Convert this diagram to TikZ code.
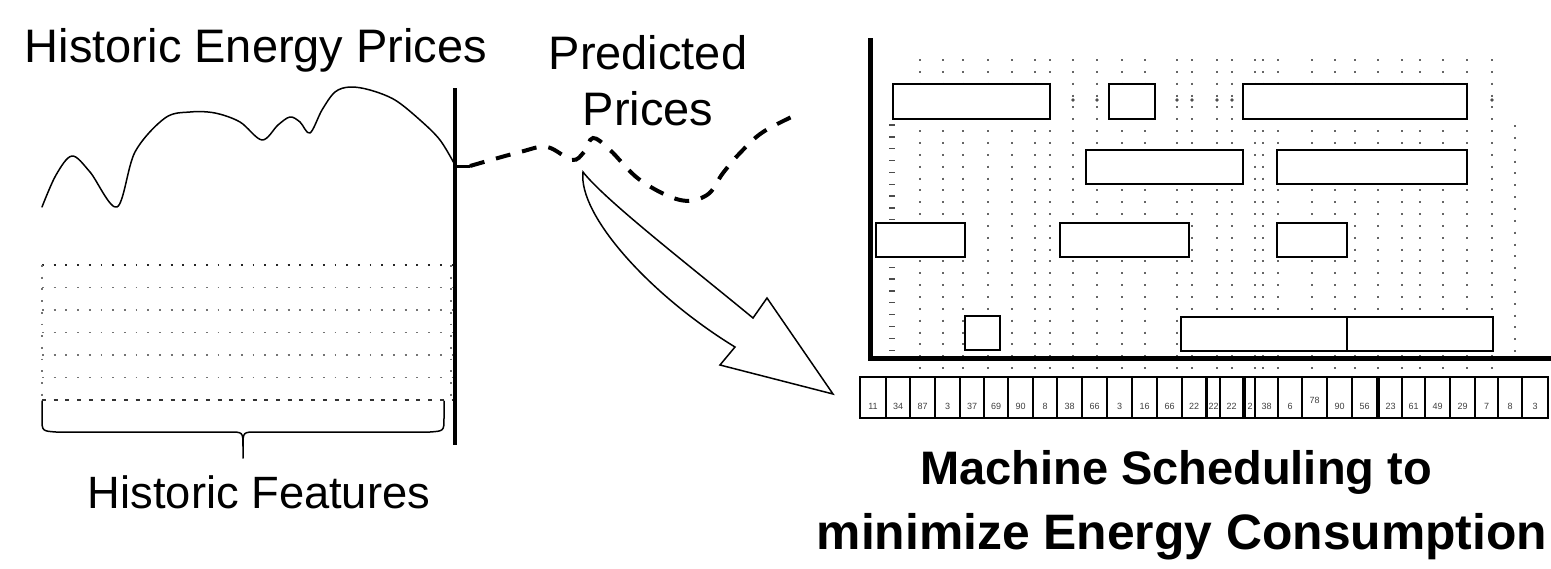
\documentclass[tikz,border=0pt]{standalone}
\usepackage{fontspec}
\setmainfont{Liberation Sans}
\begin{document}
\begin{tikzpicture}[x=1pt,y=-1pt,
  bigtext/.style={font=\fontsize{47}{56}\selectfont, anchor=base, inner sep=0pt},
  boldtext/.style={font=\fontsize{47}{56}\selectfont\bfseries, anchor=base, inner sep=0pt},
  gdots/.style={line width=2pt, black!60, dash pattern=on 2pt off 9.85pt},
  ldots/.style={line width=1.8pt, black!55, dash pattern=on 1.8pt off 9.9pt},
  job/.style={draw, line width=1.7pt, fill=white},
  cell/.style={draw, line width=1.3pt, fill=white},
  num/.style={font=\fontsize{9}{10}\selectfont, text=black!75, inner sep=0pt},
  thinline/.style={line width=1.5pt, line cap=round, line join=round}]
\useasboundingbox (0,0) rectangle (1551,568);

% ---------------- texts ----------------
\node[bigtext] (hep) at (256,62) {Historic Energy Prices};
\node[bigtext] (pred) at (648,69) {Predicted};
\node[bigtext] (pric) at (648,125) {Prices};
\node[bigtext, font=\fontsize{45.3}{56}\selectfont] (hf) at (259,508) {Historic Features};
\node[boldtext] (ms1) at (1176,484) {Machine Scheduling to};
\node[boldtext, font=\fontsize{49.8}{56}\selectfont\bfseries] (ms2) at (1182,549) {minimize Energy Consumption};

% ---------------- left: historic prices ----------------
\draw[thinline] plot[smooth, tension=0.55] coordinates {
  (42,207) (56,175) (72,156) (90,172) (117,207) (135,152) (165,118) (190,112)
  (215,113) (240,122) (262,140) (278,125) (290,117) (300,122) (310,133)
  (322,110) (335,92) (350,87) (370,90) (395,100) (420,120) (440,140) (455,165)};

% historic features grid
\foreach \y in {287.5,310,332.5,355,377.5} \draw[ldots] (42,\y) -- (452,\y);
\draw[ldots, black!85] (42,265) -- (452,265);
\draw[ldots] (42,265) -- (42,400);
\draw[ldots] (451,265) -- (451,400);
\draw[line width=1.6pt, black!80, dash pattern=on 4pt off 7.7pt] (42,400) -- (452,400);

% brace
\draw[thinline] (42,401) -- (42,418) .. controls (42,431) .. (56,432) -- (229,432)
  .. controls (243,432) .. (243,446) -- (243,458);
\draw[thinline] (243,446) .. controls (243,432) .. (257,432) -- (430,432)
  .. controls (444,431) .. (444,418) -- (444,401);

% "now" line
\draw[line width=3.5pt] (455,88) -- (455,445);
\coordinate (now) at (455,166);
\draw[line width=3pt] (now) -- (470,166);

% predicted prices dashed
\draw[line width=4pt, dash pattern=on 15pt off 12pt] plot[smooth, tension=0.6] coordinates {
  (470,166) (520,152) (547,147) (572,160) (584,152) (593,138) (610,150) (640,180)
  (680,200) (707,195) (723,173) (740,153) (763,132) (800,113)};

% big hollow arrow
\draw[line width=1.5pt, line join=miter, fill=white]
  (583,172) .. controls (578,215) and (650,295) .. (735,347)
  -- (720,365) -- (833,394) -- (767,298) -- (753,318)
  .. controls (685,262) and (605,200) .. (583,172) -- cycle;

% ---------------- right: schedule ----------------
\foreach \x in {920,943,963,988,1012,1035,1050,1073,1097,1122,1145,1177,1192,
  1217,1232,1255,1263,1278,1312,1335,1355,1378,1402,1420,1443,1467,1492}
  \draw[gdots] (\x,59) -- (\x,371);
\draw[gdots] (1515,125) -- (1515,358);
\foreach \k in {0,...,19}
  \draw[black!70, line width=1.3pt] (889,{125+\k*11.85}) -- (895,{125+\k*11.85});
\foreach \x in {1073,1097,1177,1192,1217,1232,1492}
  \fill[black!70] (\x,100) circle (1.8pt);

% jobs
\draw[job] (893,84) rectangle (1050,119);
\draw[job] (1109,84) rectangle (1155,119);
\draw[job] (1243,84) rectangle (1467,119);
\draw[job] (1086,150) rectangle (1243,184);
\draw[job] (1277,150) rectangle (1467,184);
\draw[job] (876,223) rectangle (965,257);
\draw[job] (1060,223) rectangle (1189,257);
\draw[job] (1277,223) rectangle (1347,257);
\draw[job] (965,316) rectangle (1000,350);
\draw[job] (1181,317) rectangle (1347,351);
\draw[job] (1347,317) rectangle (1493,351);

% axes
\draw[line width=5pt, line join=miter] (870,38) -- (870,358) -- (1551,358);

% price cells
\foreach \a/\b/\t/\ty [count=\i] in {860/886/11/406, 886/910/34/406, 910/935/87/406,
  935/960/3/406, 960/984/37/406, 984/1008/69/406, 1008/1033/90/406, 1033/1057/8/406,
  1057/1082/38/406, 1082/1107/66/406, 1107/1132/3/406, 1132/1157/16/406,
  1157/1182/66/406, 1182/1206/22/406, 1207/1220/22/406, 1220/1243/22/406,
  1245/1255/2/406, 1255/1278/38/406, 1278/1302/6/406, 1302/1327/78/400,
  1327/1352/90/406, 1352/1377/56/406, 1379/1402/23/406, 1402/1425/61/406,
  1425/1450/49/406, 1450/1475/29/406, 1475/1498/7/406, 1498/1522/8/406,
  1522/1548/3/406} {
  \draw[cell] (\a,377) rectangle (\b,418);
  \node[num] (cell\i) at ({(\a+\b)/2},\ty) {\t};
}
\end{tikzpicture}
\end{document}
